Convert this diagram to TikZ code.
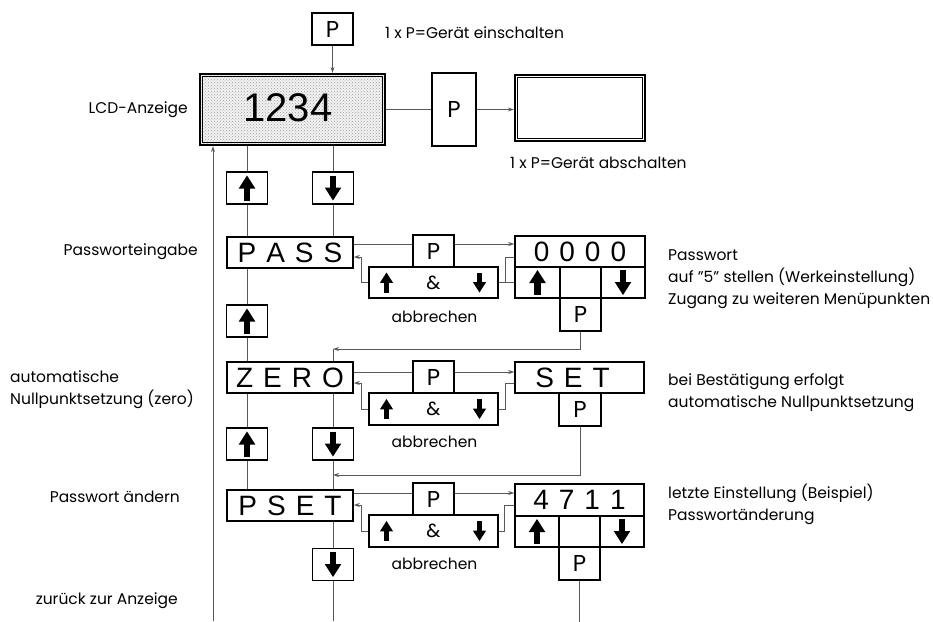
\documentclass[tikz,border=0pt]{standalone}
\usepackage{fontspec}
\setmainfont{Poppins}
\newfontfamily\disp{Liberation Sans}
\usetikzlibrary{arrows.meta,patterns,calc}
\tikzset{
  box/.style={draw=black,line width=1.5pt,inner sep=0pt,fill=white,minimum width=41pt,minimum height=32pt},
  conn/.style={draw=black!65,line width=0.9pt},
  arr/.style={conn,-{Stealth[length=6pt,width=4pt]}},
  lbl/.style={font=\fontsize{15.5}{22}\selectfont,inner sep=0pt},
  ptxt/.style={font=\fontsize{23}{23}\selectfont},
  dtxt/.style={font=\disp\fontsize{28}{28}\selectfont},
  uparr/.pic={\fill (-3.4,12.5) rectangle (3.4,0); \fill (-8.3,0.5) -- (8.3,0.5) -- (0,-12.5) -- cycle;},
  dnarr/.pic={\fill (-3.4,-12.5) rectangle (3.4,0); \fill (-8.3,-0.5) -- (8.3,-0.5) -- (0,12.5) -- cycle;},
}
\newcommand\gap{\kern10pt}
\begin{document}
\begin{tikzpicture}[x=1pt,y=-1pt]
\useasboundingbox (0,0) rectangle (933,621);

% top
\node[box,ptxt] (tp) at (332.5,29) {P};
\node[lbl,anchor=west] (ein) at (385,33) {1 x P=Gerät einschalten};
\node[draw=black,line width=2.2pt,inner sep=0pt,minimum width=185pt,minimum height=71pt,
  preaction={fill=black!5},pattern=crosshatch dots,pattern color=black!38] (lcd) at (292.5,109.5) {};
\draw[line width=0.9pt] ($(lcd.north west)+(3.5,3.5)$) rectangle ($(lcd.south east)+(-3.5,-3.5)$);
\node[font=\disp\fontsize{40}{40}\selectfont,inner sep=0pt] (num) at (288,108) {1234};
\node[lbl,anchor=east] (lcdl) at (188,110) {LCD-Anzeige};
\node[box,ptxt,minimum width=44pt,minimum height=73pt] (p2) at (454,109.5) {P};
\node[draw=black,line width=2.2pt,inner sep=0pt,minimum width=130pt,minimum height=66pt] (blank) at (580,108) {};
\draw[line width=0.9pt] ($(blank.north west)+(3.5,3.5)$) rectangle ($(blank.south east)+(-3.5,-3.5)$);
\node[lbl,anchor=west] (aus) at (510,163) {1 x P=Gerät abschalten};
\draw[arr] (tp.south) -- (lcd.north -| tp.south);
\draw[conn] (lcd.east) -- (p2.west);
\draw[arr] (p2.east) -- (p2.east -| blank.west);

% arrow boxes
\node[box] (u1) at (247,188) {}; \pic at (u1.center) {uparr};
\node[box] (d1) at (333,188) {}; \pic at (d1.center) {dnarr};
\node[box] (u2) at (247,321) {}; \pic at (u2.center) {uparr};
\node[box] (u3) at (247,444) {}; \pic at (u3.center) {uparr};
\node[box] (d3) at (333,444) {}; \pic at (d3.center) {dnarr};
\node[box] (d4) at (333,564.5) {}; \pic at (d4.center) {dnarr};

% PASS row
\node[box,dtxt,minimum width=126pt,minimum height=31pt] (pass) at (290,252.5) {P\gap A\gap S\gap S};
\node[lbl,anchor=east] (passl) at (198,252) {Passworteingabe};
\node[box,ptxt] (pp) at (433.5,251) {P};
\node[box,font=\fontsize{19}{19}\selectfont,minimum width=129pt,minimum height=31pt] (amp1) at (433.5,282.5) {\&};
\pic[scale=0.8] at ($(amp1.center)+(-47,0)$) {uparr};
\pic[scale=0.8] at ($(amp1.center)+(46,0)$) {dnarr};
\node[lbl] (ab1) at (434.5,317) {abbrechen};
\node[box,dtxt,minimum width=130pt,minimum height=31pt] (pw) at (580,251.5) {0\gap 0\gap 0\gap 0};
\node[box,minimum width=45pt,minimum height=31pt] (pwu) at (537.5,282.5) {}; \pic at (pwu.center) {uparr};
\node[box,minimum width=41pt,minimum height=31pt] (pwm) at (580.5,282.5) {};
\node[box,minimum width=44pt,minimum height=31pt] (pwd) at (623,282.5) {}; \pic at (pwd.center) {dnarr};
\node[box,ptxt,minimum height=33pt] (pwp) at (580.5,314.5) {P};
\node[lbl,anchor=west,align=left] (pwl) at (668,279) {Passwort\\auf "5" stellen (Werkeinstellung)\\Zugang zu weiteren Menüpunkten};

\draw[conn] ($(pass.east)+(0,-8.5)$) -- ($(pp.west)+(0,-7)$);
\draw[arr] ($(pp.east)+(0,-7)$) -- ($(pw.west)+(0,-7.5)$);
\draw[arr] (amp1.west) -- ++(-7,0) |- ($(pass.east)+(0,4.5)$);
\draw[conn] (amp1.east) -- ++(7,0) |- ($(pw.west)+(0,5.5)$);
\draw[conn] ($(amp1.east)+(7,0)$) -- (pwu.west);
\coordinate (j1) at (333,349);
\draw[arr] (pwp.south) |- (j1);
\draw[conn] (j1) -- (j1 |- 0,362);

% ZERO row
\node[box,dtxt,minimum width=126pt,minimum height=31pt] (zero) at (290,377.5) {Z\gap E\gap R\gap O};
\node[lbl,anchor=west,align=left] (zerol) at (10,390) {automatische\\Nullpunktsetzung (zero)};
\node[box,ptxt] (zp) at (433.5,377) {P};
\node[box,font=\fontsize{19}{19}\selectfont,minimum width=129pt,minimum height=32pt] (amp2) at (433.5,409) {\&};
\pic[scale=0.8] at ($(amp2.center)+(-47,0)$) {uparr};
\pic[scale=0.8] at ($(amp2.center)+(46,0)$) {dnarr};
\node[lbl] (ab2) at (434.5,442) {abbrechen};
\node[box,dtxt,minimum width=129pt,minimum height=31pt] (set) at (579.5,377.5) {\hspace*{-14pt}S\gap E\gap T};
\node[box,ptxt,minimum width=42pt,minimum height=33pt] (setp) at (580,409.5) {P};
\node[lbl,anchor=west,align=left] (setl) at (668,393) {bei Bestätigung erfolgt\\automatische Nullpunktsetzung};

\draw[conn] ($(zero.east)+(0,-5.5)$) -- ($(zp.west)+(0,-5)$);
\draw[arr] ($(zp.east)+(0,-5)$) -- ($(set.west)+(0,-5.5)$);
\draw[arr] (amp2.west) -- ++(-7,0) |- ($(zero.east)+(0,5.5)$);
\draw[conn] (amp2.east) -- ++(7,0) |- ($(set.west)+(0,5.5)$);
\coordinate (j2) at (333,475);
\draw[arr] (setp.south) |- (j2);

% PSET row
\node[box,dtxt,minimum width=126pt,minimum height=31pt] (pset) at (290,505.5) {P\gap S\gap E\gap T};
\node[lbl,anchor=east] (psetl) at (180,497) {Passwort ändern};
\node[box,ptxt] (sp) at (433.5,499) {P};
\node[box,font=\fontsize{19}{19}\selectfont,minimum width=129pt,minimum height=32pt] (amp3) at (433.5,531) {\&};
\pic[scale=0.8] at ($(amp3.center)+(-47,0)$) {uparr};
\pic[scale=0.8] at ($(amp3.center)+(46,0)$) {dnarr};
\node[lbl] (ab3) at (434.5,564) {abbrechen};
\node[box,dtxt,minimum width=129pt,minimum height=32pt] (n4711) at (579.5,500) {4\gap 7\gap 1\gap 1};
\node[box,minimum width=44pt,minimum height=31pt] (nu) at (537,531.5) {}; \pic at (nu.center) {uparr};
\node[box,minimum width=41pt,minimum height=31pt] (nm) at (579.5,531.5) {};
\node[box,minimum width=44pt,minimum height=31pt] (nd) at (622,531.5) {}; \pic at (nd.center) {dnarr};
\node[box,ptxt,minimum height=33pt] (np) at (579.5,563.5) {P};
\node[lbl,anchor=west,align=left] (nl) at (668,504) {letzte Einstellung (Beispiel)\\Passwortänderung};
\node[lbl,anchor=east] (back) at (178,601) {zurück zur Anzeige};

\draw[conn] ($(pset.east)+(0,-12.5)$) -- ($(sp.west)+(0,-6)$);
\draw[arr] ($(sp.east)+(0,-6)$) -- ($(n4711.west)+(0,-7)$);
\draw[arr] (amp3.west) -- ++(-7,0) |- ($(pset.east)+(0,-0.5)$);
\draw[conn] (amp3.east) -- ++(6,0) |- ($(n4711.west)+(0,5)$);
\draw[conn] (np.south) -- ++(0,41);

% columns
\coordinate (bot1) at (213,621);
\coordinate (bot2) at (333,621);
\draw[arr] (bot1) -- (bot1 |- lcd.south);
\draw[conn] (lcd.south -| u1.north) -- (u1.north);
\draw[conn] (u1.south) -- (pass.north -| u1.south);
\draw[conn] (pass.south -| u2.north) -- (u2.north);
\draw[conn] (u2.south) -- (zero.north -| u2.south);
\draw[conn] (zero.south -| u3.north) -- (u3.north);
\draw[conn] (u3.south) -- (pset.north -| u3.south);
\draw[conn] (lcd.south -| d1.north) -- (d1.north);
\draw[conn] (d1.south) -- (pass.north -| d1.south);
\draw[conn] (zero.south -| d3.north) -- (d3.north);
\draw[conn] (d3.south) -- (pset.north -| d3.south);
\draw[conn] (pset.south -| d4.north) -- (d4.north);
\draw[conn] (d4.south) -- (bot2);
\end{tikzpicture}
\end{document}
